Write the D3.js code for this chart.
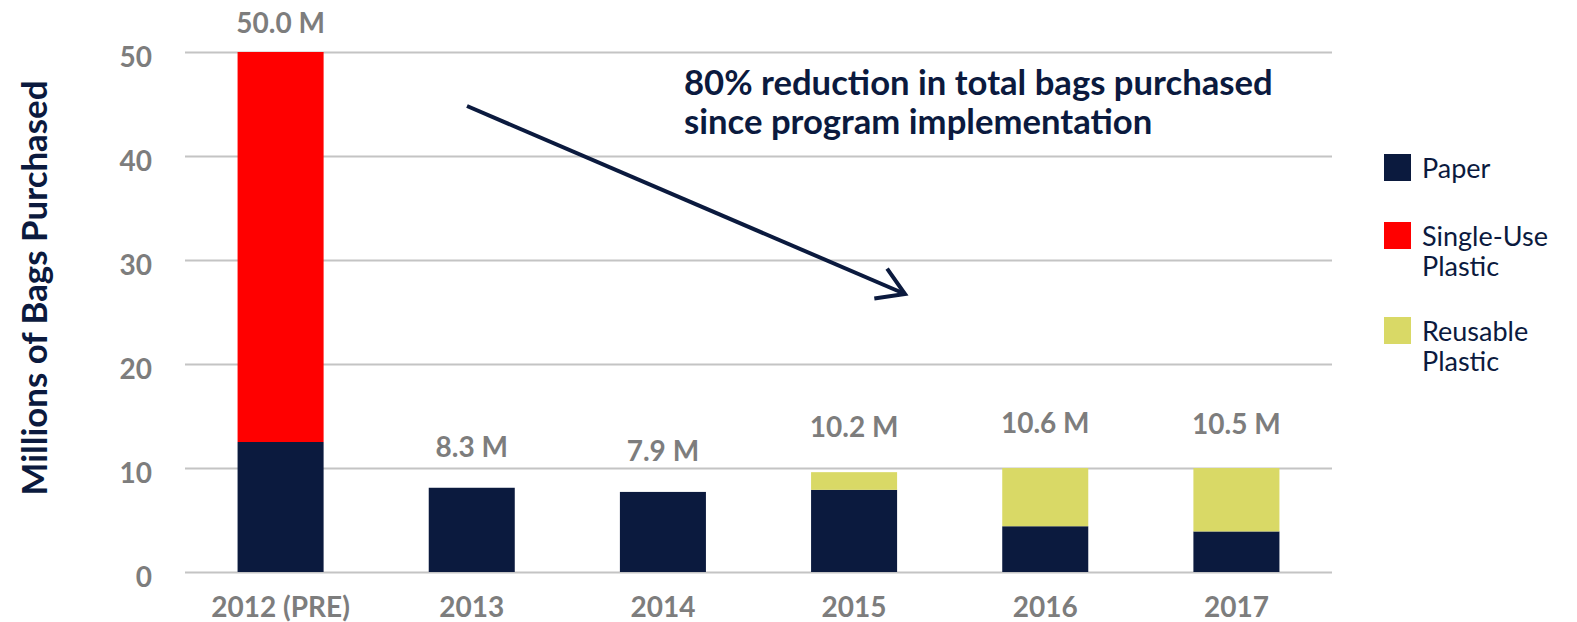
<!DOCTYPE html>
<html>
<head>
<meta charset="utf-8">
<script src="https://cdn.jsdelivr.net/npm/d3@7"></script>
<style>
  html, body { margin: 0; padding: 0; background: #ffffff; }
  svg { display: block; font-family: Lato, "Open Sans", sans-serif; }
  .grid line { stroke: #c4c4c4; stroke-width: 2; }
  .gray-label { fill: #7d7d7d; font-weight: 700; }
</style>
</head>
<body>
<div id="chart"></div>
<script>
  // data
  const years = ["2012 (PRE)", "2013", "2014", "2015", "2016", "2017"];
  const paper = [12.5, 8.1, 7.7, 7.9, 4.4, 3.9];
  const singleUse = [37.5, 0, 0, 0, 0, 0];
  const reusable = [0, 0, 0, 1.7, 5.6, 6.1];
  const totals = [50.0, 8.3, 7.9, 10.2, 10.6, 10.5];
  const yTicks = [0, 10, 20, 30, 40, 50];
  const seriesNames = ["Paper", "Single-Use Plastic", "Reusable Plastic"];

  const WIDTH = 1577;
  const HEIGHT = 622;
  const COLORS = ["#0b1a3e", "#ff0000", "#d9d966"];
  const NAVY = "#0b1a3e";
  const GRAY_SIZE = 28;

  window.onload = function() {
    let svg = d3.select("#chart")
      .append("svg")
      .attr("width", WIDTH)
      .attr("height", HEIGHT);

    let x = d3.scaleBand()
      .domain(years)
      .range([185, 1332])
      .paddingInner(0.55)
      .paddingOuter(0.275);

    let y = d3.scaleLinear()
      .domain([0, 50])
      .range([572, 52]);

    drawGrid(svg, x, y);
    drawBars(svg, x, y);
    drawLabels(svg, x, y);
    drawLegend(svg);
    drawAnnotation(svg);
  };

  function drawGrid(svg, x, y) {
    // gridlines
    svg.append("g")
      .attr("class", "grid")
      .attr("transform", "translate(185,0)")
      .call(d3.axisLeft(y).tickValues(yTicks).tickSize(-(1332 - 185)).tickFormat(""))
      .call(g => g.select(".domain").remove());

    // y tick labels
    svg.append("g")
      .attr("transform", "translate(185,0)")
      .call(d3.axisLeft(y).tickValues(yTicks).tickSize(0).tickPadding(33))
      .call(g => g.select(".domain").remove())
      .selectAll("text")
      .attr("class", "gray-label")
      .attr("dy", "0.5em")
      .style("font-size", GRAY_SIZE + "px")
      .style("font-family", "Lato, sans-serif");

    // x labels
    svg.append("g")
      .attr("transform", "translate(0,572)")
      .call(d3.axisBottom(x).tickSize(0).tickPadding(25))
      .call(g => g.select(".domain").remove())
      .selectAll("text")
      .attr("class", "gray-label")
      .style("font-size", GRAY_SIZE + "px")
      .style("font-family", "Lato, sans-serif");

    // y title
    let title = svg.append("text")
      .attr("transform", "translate(47,288) rotate(-90)")
      .attr("text-anchor", "middle")
      .style("font-size", "28px")
      .style("font-weight", 700)
      .style("fill", NAVY)
      .text("Millions of Bags Purchased");
    fitWidth(title, 415, 28);
  }

  function drawBars(svg, x, y) {
    let rows = years.map(function(yr, i) {
      return { year: yr, paper: paper[i], single: singleUse[i], reusable: reusable[i] };
    });
    let stack = d3.stack().keys(["paper", "single", "reusable"]);
    let layers = stack(rows);

    svg.append("g")
      .selectAll("g")
      .data(layers)
      .join("g")
      .attr("fill", function(d, i) { return COLORS[i]; })
      .selectAll("rect")
      .data(function(d) { return d; })
      .join("rect")
      .attr("x", function(d) { return x(d.data.year); })
      .attr("width", x.bandwidth())
      .attr("y", function(d) { return y(d[1]); })
      .attr("height", function(d) { return y(d[0]) - y(d[1]); });
  }

  function drawLabels(svg, x, y) {
    svg.append("g")
      .selectAll("text")
      .data(totals)
      .join("text")
      .attr("class", "gray-label")
      .attr("x", function(d, i) { return x(years[i]) + x.bandwidth() / 2; })
      .attr("y", function(d) { return Math.max(33, y(d) - 29); })
      .attr("text-anchor", "middle")
      .style("font-size", GRAY_SIZE + "px")
      .text(function(d) { return d.toFixed(1) + " M"; });
  }

  function drawLegend(svg) {
    let lines = [["Paper"], ["Single-Use", "Plastic"], ["Reusable", "Plastic"]];
    let tops = [154, 222, 317];

    let g = svg.append("g");
    seriesNames.forEach(function(name, i) {
      g.append("rect")
        .attr("x", 1384)
        .attr("y", tops[i])
        .attr("width", 27)
        .attr("height", 27)
        .attr("fill", COLORS[i]);

      let t = g.append("text")
        .attr("x", 1422)
        .attr("y", tops[i] + 24)
        .style("font-size", "27px")
        .style("fill", NAVY);
      lines[i].forEach(function(s, k) {
        t.append("tspan")
          .attr("x", 1422)
          .attr("dy", k === 0 ? 0 : 30)
          .text(s);
      });
    });
  }

  function drawAnnotation(svg) {
    // arrow
    let x1 = 467, y1 = 106, x2 = 905, y2 = 294;
    let ang = Math.atan2(y2 - y1, x2 - x1);
    let len = 31, spread = 0.55;
    svg.append("line")
      .attr("x1", x1).attr("y1", y1)
      .attr("x2", x2).attr("y2", y2)
      .attr("stroke", NAVY)
      .attr("stroke-width", 4);
    svg.append("path")
      .attr("d",
        "M" + (x2 - len * Math.cos(ang - spread)) + "," + (y2 - len * Math.sin(ang - spread)) +
        "L" + x2 + "," + y2 +
        "L" + (x2 - len * Math.cos(ang + spread)) + "," + (y2 - len * Math.sin(ang + spread)))
      .attr("fill", "none")
      .attr("stroke", NAVY)
      .attr("stroke-width", 4);

    let l1 = svg.append("text")
      .attr("x", 684).attr("y", 95)
      .style("font-size", "28px")
      .style("font-weight", 700)
      .style("fill", NAVY)
      .text("80% reduction in total bags purchased");
    let size = fitWidth(l1, 589, 28);
    svg.append("text")
      .attr("x", 684).attr("y", 134)
      .style("font-size", size + "px")
      .style("font-weight", 700)
      .style("fill", NAVY)
      .text("since program implementation");
  }

  function fitWidth(sel, target, size) {
    let w = sel.node().getComputedTextLength();
    let s = size * target / w;
    sel.style("font-size", s + "px");
    return s;
  }
</script>
</body>
</html>
